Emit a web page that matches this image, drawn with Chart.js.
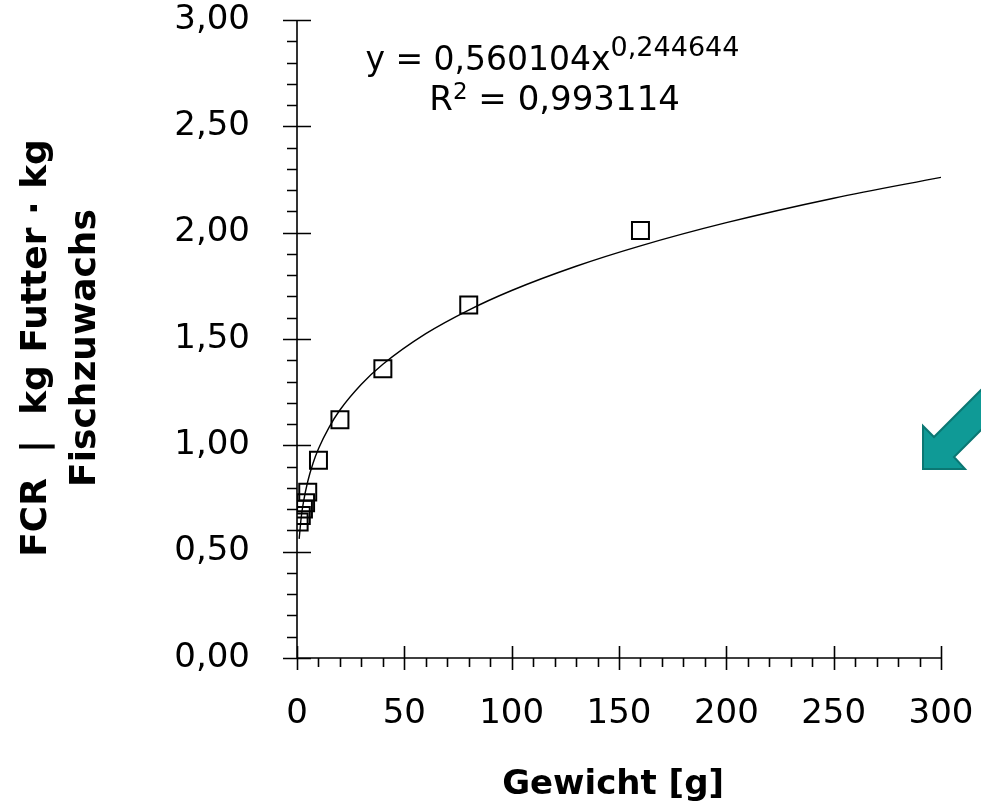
<!DOCTYPE html>
<html>
<head>
<meta charset="utf-8">
<script src="https://cdn.jsdelivr.net/npm/chart.js@4/dist/chart.umd.min.js"></script>
<style>
  html, body { margin: 0; padding: 0; background: #fff; }
  #wrap { width: 981px; height: 809px; }
</style>
</head>
<body>
<div id="wrap"><canvas id="myChart"></canvas></div>
<script>
// measured points (weight in g, FCR)
var gewicht = [1, 2, 3, 4, 5, 10, 20, 40, 80, 160];
var fcr = [0.64, 0.67, 0.70, 0.73, 0.78, 0.93, 1.12, 1.36, 1.66, 2.01];

// power trend line
var trendX = [1, 2, 3, 5, 7.5, 10, 15, 20, 30, 40, 60, 80, 100, 130, 160, 200, 250, 300];
var trendY = [0.56, 0.664, 0.733, 0.830, 0.917, 0.984, 1.086, 1.166, 1.287, 1.381, 1.525, 1.636, 1.728, 1.842, 1.938, 2.047, 2.162, 2.26];

var yTicks = [0, 0.5, 1, 1.5, 2, 2.5, 3];
var xTicks = [0, 50, 100, 150, 200, 250, 300];

var thinFont = "'DejaVu Sans', sans-serif";
var boldFont = "'DejaVu Sans', sans-serif";

function toPoints(xs, ys) {
    return xs.map(function (x, i) { return { x: x, y: ys[i] }; });
}

// draws text pieces in a row, some raised as superscript, centred on cx
function drawRow(ctx, parts, cx, base) {
    var total = 0;
    parts.forEach(function (p) {
        ctx.font = p.size + 'px ' + thinFont;
        p.w = ctx.measureText(p.t).width;
        total += p.w;
    });
    var x = cx - total / 2;
    parts.forEach(function (p) {
        ctx.font = p.size + 'px ' + thinFont;
        ctx.fillText(p.t, x, base - (p.up || 0));
        x += p.w;
    });
}

// axis lines with crossing major ticks and outside minor ticks
var axesPlugin = {
    id: 'axesPlugin',
    afterDatasetsDraw: function (chart) {
        var ctx = chart.ctx;
        var xs = chart.scales.x, ys = chart.scales.y;
        var x0 = xs.getPixelForValue(0), y0 = ys.getPixelForValue(0);
        ctx.save();
        ctx.strokeStyle = '#000';
        ctx.lineWidth = 1.6;
        ctx.beginPath();
        ctx.moveTo(x0, ys.getPixelForValue(3));
        ctx.lineTo(x0, y0);
        ctx.lineTo(xs.getPixelForValue(300), y0);
        for (var i = 0; i <= 30; i++) {
            var py = Math.round(ys.getPixelForValue(i / 10)) + 0.5;
            ctx.moveTo(x0 - (i % 5 === 0 ? 14 : 10), py);
            ctx.lineTo(x0 + (i % 5 === 0 ? 14 : 0), py);
        }
        for (var j = 0; j <= 30; j++) {
            var px = Math.round(xs.getPixelForValue(j * 10)) + 0.5;
            ctx.moveTo(px, y0 - (j % 5 === 0 ? 12 : 0));
            ctx.lineTo(px, y0 + (j % 5 === 0 ? 12 : 9));
        }
        ctx.stroke();

        // equation of the trend line
        ctx.fillStyle = '#000';
        ctx.textBaseline = 'alphabetic';
        ctx.textAlign = 'left';
        drawRow(ctx, [
            { t: 'y = 0,560104x', size: 33 },
            { t: '0,244644', size: 27, up: 14 }
        ], xs.getPixelForValue(119), ys.getPixelForValue(2.765));
        drawRow(ctx, [
            { t: 'R', size: 34 },
            { t: '2', size: 23, up: 11 },
            { t: ' = 0,993114', size: 34 }
        ], xs.getPixelForValue(120), ys.getPixelForValue(2.577));

        // teal arrow at the right edge
        ctx.beginPath();
        ctx.moveTo(923, 469);
        ctx.lineTo(923, 426);
        ctx.lineTo(934, 437);
        ctx.lineTo(1000, 371);
        ctx.lineTo(1020, 391);
        ctx.lineTo(954, 457);
        ctx.lineTo(965, 469);
        ctx.closePath();
        ctx.fillStyle = '#0f9a96';
        ctx.fill();
        ctx.strokeStyle = '#0b7773';
        ctx.lineWidth = 2;
        ctx.stroke();
        ctx.restore();
    }
};

var ctx = document.getElementById('myChart').getContext('2d');
var myChart = new Chart(ctx, {
    type: 'scatter',
    data: {
        datasets: [{
            label: 'FCR',
            data: toPoints(gewicht, fcr),
            pointStyle: 'rect',
            pointRadius: 12,
            pointHoverRadius: 12,
            backgroundColor: 'rgba(255, 255, 255, 0)',
            borderColor: '#000',
            borderWidth: 2,
            order: 2
        }, {
            label: 'Trend',
            data: toPoints(trendX, trendY),
            showLine: true,
            pointRadius: 0,
            borderColor: '#000',
            borderWidth: 1.4,
            cubicInterpolationMode: 'monotone',
            order: 1
        }]
    },
    options: {
        responsive: true,
        maintainAspectRatio: false,
        animation: false,
        layout: {
            autoPadding: false,
            padding: { top: 20, right: 40, bottom: 0, left: 0 }
        },
        plugins: {
            legend: { display: false },
            tooltip: { enabled: false }
        },
        scales: {
            x: {
                type: 'linear',
                min: 0,
                max: 300,
                afterFit: function (scale) {
                    scale.height = 151;
                    scale.paddingLeft = 0;
                    scale.paddingRight = 0;
                },
                afterBuildTicks: function (scale) {
                    scale.ticks = xTicks.map(function (v) { return { value: v }; });
                },
                grid: { display: false, drawTicks: false },
                border: { display: false },
                ticks: {
                    padding: 36,
                    color: '#000',
                    maxRotation: 0,
                    font: { family: thinFont, size: 34 }
                },
                title: {
                    display: true,
                    text: 'Gewicht [g] ',
                    color: '#000',
                    font: { family: boldFont, size: 34, weight: 'bold' },
                    padding: { top: 0, bottom: 3 }
                }
            },
            y: {
                type: 'linear',
                min: 0,
                max: 3,
                afterFit: function (scale) {
                    scale.width = 297;
                    scale.paddingTop = 0;
                    scale.paddingBottom = 0;
                },
                afterBuildTicks: function (scale) {
                    scale.ticks = yTicks.map(function (v) { return { value: v }; });
                },
                grid: { display: false, drawTicks: false },
                border: { display: false },
                ticks: {
                    padding: 47,
                    color: '#000',
                    font: { family: thinFont, size: 34 },
                    callback: function (v) { return v.toFixed(2).replace('.', ','); }
                },
                title: {
                    display: true,
                    text: ['FCR  |  kg Futter \u00b7 kg\u2002', 'Fischzuwachs\u2002'],
                    color: '#000',
                    font: { family: boldFont, size: 36, weight: 'bold', lineHeight: 1.36 },
                    padding: { top: 12, bottom: 0 }
                }
            }
        }
    },
    plugins: [axesPlugin]
});
</script>
</body>
</html>
